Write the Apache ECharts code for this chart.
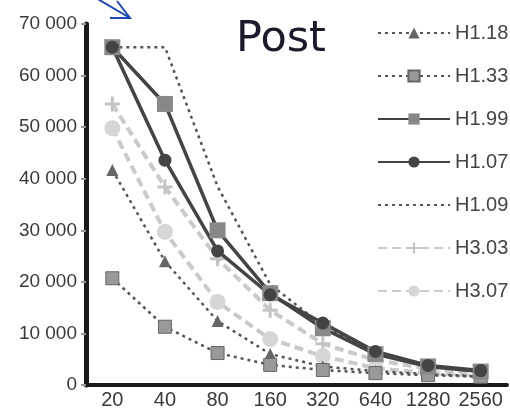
<!DOCTYPE html>
<html>
<head>
<meta charset="utf-8">
<script src="https://cdn.jsdelivr.net/npm/echarts@6/dist/echarts.min.js"></script>
<style>
  html, body { margin: 0; padding: 0; background: #fff; }
  #post { width: 510px; height: 410px; }
</style>
</head>
<body>
<div id="post"></div>
<script>
// data
var sizes = ['20', '40', '80', '160', '320', '640', '1280', '2560'];
var yTicks = [0, 10000, 20000, 30000, 40000, 50000, 60000, 70000];
var h118 = [41700, 24000, 12400, 6000, 3600, 2700, 2100, 1700];
var h133 = [20700, 11300, 6200, 3900, 2900, 2300, 1900, 1600];
var h199 = [65500, 54500, 30000, 17800, 11000, 6000, 3600, 2600];
var h107 = [65500, 43600, 26000, 17500, 12000, 6500, 3800, 2800];
var h109 = [65500, 65500, 38500, 19500, 11500, 6300, 3800, 2700];
var h303 = [54500, 38400, 24500, 14500, 8000, 4800, 3200, 2400];
var h307 = [49800, 29700, 16100, 8900, 5600, 3300, 2300, 1900];

var plus = 'path://M4,0 L6,0 L6,4 L10,4 L10,6 L6,6 L6,10 L4,10 L4,6 L0,6 L0,4 L4,4 Z';

var postChart = echarts.init(document.getElementById('post'));

function fmt(v) {
    return String(v).replace(/\B(?=(\d{3})+(?!\d))/g, ' ');
}

var option = {
    animation: false,
    backgroundColor: '#fff',
    title: {
        text: 'Post',
        left: 231,
        top: 13,
        textStyle: { fontFamily: 'DejaVu Sans', fontSize: 43, fontWeight: 'normal', color: '#1a1a2a' }
    },
    legend: {
        orient: 'vertical',
        left: 372,
        top: 18,
        itemWidth: 72,
        itemHeight: 14,
        itemGap: 23,
        textStyle: { fontFamily: 'Liberation Sans', fontSize: 20, color: '#444' },
        data: ['H1.18', 'H1.33', 'H1.99', 'H1.07',
            { name: 'H1.09', itemStyle: { opacity: 0 } },
            'H3.03', 'H3.07']
    },
    grid: { left: 86, right: 3, top: 24, bottom: 25 },
    xAxis: {
        type: 'category',
        data: sizes,
        boundaryGap: true,
        axisLine: { lineStyle: { color: '#1a1a1a', width: 4 } },
        axisTick: { interval: 0, length: 5, lineStyle: { color: '#999', width: 2 } },
        axisLabel: { interval: 0, margin: 5, fontFamily: 'Liberation Sans', fontSize: 20, color: '#3a3a3a' }
    },
    yAxis: {
        type: 'value',
        min: yTicks[0],
        max: yTicks[yTicks.length - 1],
        interval: 10000,
        splitLine: { show: false },
        axisLine: { show: true, lineStyle: { color: '#1a1a1a', width: 5 } },
        axisTick: { show: true, length: 5, lineStyle: { color: '#999', width: 2 } },
        axisLabel: { margin: 9, fontFamily: 'Liberation Sans', fontSize: 19, color: '#3a3a3a', formatter: fmt }
    },
    graphic: [
        { type: 'polyline', shape: { points: [[96, -2], [130, 18]] }, style: { stroke: '#1f47b0', lineWidth: 2, fill: null } },
        { type: 'polyline', shape: { points: [[117, 1], [130, 18], [110, 18]] }, style: { stroke: '#1f47b0', lineWidth: 2, fill: null } }
    ],
    series: [
        {
            name: 'H1.18', type: 'line', data: h118, z: 3,
            symbol: 'triangle', symbolSize: 12,
            itemStyle: { color: '#666' },
            lineStyle: { color: '#555', width: 2.5, type: [3, 4] }
        },
        {
            name: 'H1.33', type: 'line', data: h133, z: 3,
            symbol: 'rect', symbolSize: 13,
            itemStyle: { color: '#999', borderColor: '#666', borderWidth: 1 },
            lineStyle: { color: '#555', width: 2.5, type: [3, 4] }
        },
        {
            name: 'H1.99', type: 'line', data: h199, z: 4,
            symbol: 'rect', symbolSize: 16,
            itemStyle: { color: '#888' },
            lineStyle: { color: '#444', width: 3.5 }
        },
        {
            name: 'H1.07', type: 'line', data: h107, z: 4,
            symbol: 'circle', symbolSize: 13,
            itemStyle: { color: '#444' },
            lineStyle: { color: '#444', width: 3.5 }
        },
        {
            name: 'H1.09', type: 'line', data: h109, z: 3,
            symbol: 'none',
            itemStyle: { color: '#555' },
            lineStyle: { color: '#555', width: 2.5, type: [3, 4] }
        },
        {
            name: 'H3.03', type: 'line', data: h303, z: 2,
            symbol: plus, symbolSize: 15,
            itemStyle: { color: '#c4c4c4' },
            lineStyle: { color: '#cacaca', width: 4, type: [9, 5] }
        },
        {
            name: 'H3.07', type: 'line', data: h307, z: 2,
            symbol: 'circle', symbolSize: 16,
            itemStyle: { color: '#d6d6d6' },
            lineStyle: { color: '#cacaca', width: 4, type: [9, 5] }
        }
    ]
};
postChart.setOption(option);
</script>
</body>
</html>
